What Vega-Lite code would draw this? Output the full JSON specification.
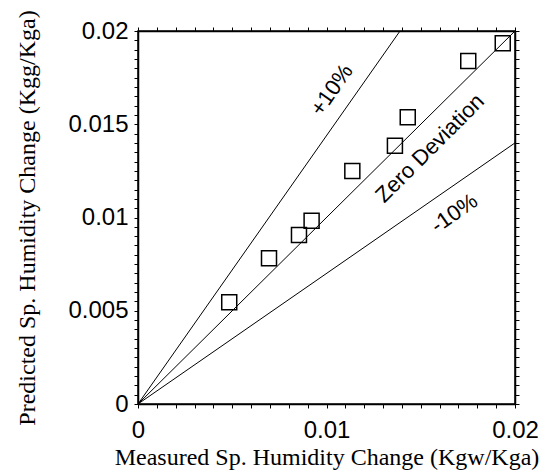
{
  "$schema": "https://vega.github.io/schema/vega-lite/v6.json",
  "width": 377,
  "height": 373,
  "autosize": {"type": "none"},
  "padding": {"left": 138, "top": 31, "right": 25, "bottom": 71},
  "background": "white",
  "config": {
    "view": {"stroke": "black", "strokeWidth": 1.5},
    "axis": {
      "grid": false,
      "domainColor": "black",
      "domainWidth": 1.5,
      "labelColor": "black",
      "labelFont": "Liberation Sans",
      "labelFontSize": 24,
      "labelFlush": false,
      "labelOverlap": false,
      "titleColor": "black",
      "titleFont": "Liberation Serif",
      "titleFontSize": 24,
      "titleFontWeight": "normal"
    }
  },
  "datasets": {
    "points": [
      {"measured": 0.00484, "predicted": 0.00545},
      {"measured": 0.00695, "predicted": 0.00781},
      {"measured": 0.00854, "predicted": 0.00906},
      {"measured": 0.00921, "predicted": 0.00983},
      {"measured": 0.01137, "predicted": 0.01249},
      {"measured": 0.01363, "predicted": 0.01385},
      {"measured": 0.01431, "predicted": 0.01537},
      {"measured": 0.01752, "predicted": 0.01839},
      {"measured": 0.01935, "predicted": 0.01934}
    ],
    "lines": [
      {"series": "+10%", "x": 0, "y": 0},
      {"series": "+10%", "x": 0.0139, "y": 0.02},
      {"series": "zero", "x": 0, "y": 0},
      {"series": "zero", "x": 0.02, "y": 0.02},
      {"series": "-10%", "x": 0, "y": 0},
      {"series": "-10%", "x": 0.02, "y": 0.014}
    ],
    "labels": [
      {"label": "+10%", "x": 0.01028, "y": 0.01684},
      {"label": "Zero Deviation", "x": 0.01549, "y": 0.01371},
      {"label": "-10%", "x": 0.01678, "y": 0.01023}
    ]
  },
  "layer": [
    {
      "data": {"name": "lines"},
      "mark": {"type": "line", "color": "black", "strokeWidth": 1, "clip": true},
      "encoding": {
        "x": {
          "field": "x", "type": "quantitative",
          "scale": {"domain": [0, 0.02], "nice": false},
          "axis": {
            "orient": "bottom",
            "values": [0,0.001,0.002,0.003,0.004,0.005,0.006,0.007,0.008,0.009,0.01,0.011,0.012,0.013,0.014,0.015,0.016,0.017,0.018,0.019,0.02],
            "format": "~g",
            "labelExpr": "abs(datum.value*100-round(datum.value*100))<1e-6 ? datum.label : ''",
            "ticks": true,
            "tickColor": "black",
            "tickOpacity": 1,
            "tickWidth": 1,
            "tickSize": 4,
            "labelPadding": 10,
            "title": "Measured Sp. Humidity Change (Kgw/Kga)",
            "titlePadding": 3
          }
        },
        "y": {
          "field": "y", "type": "quantitative",
          "scale": {"domain": [0, 0.02], "nice": false},
          "axis": {
            "orient": "left",
            "values": [0,0.0005,0.001,0.0015,0.002,0.0025,0.003,0.0035,0.004,0.0045,0.005,0.0055,0.006,0.0065,0.007,0.0075,0.008,0.0085,0.009,0.0095,0.01,0.0105,0.011,0.0115,0.012,0.0125,0.013,0.0135,0.014,0.0145,0.015,0.0155,0.016,0.0165,0.017,0.0175,0.018,0.0185,0.019,0.0195,0.02],
            "format": "~g",
            "labelExpr": "abs(datum.value*200-round(datum.value*200))<1e-6 ? datum.label : ''",
            "ticks": true,
            "tickColor": "black",
            "tickOpacity": 1,
            "tickWidth": 1,
            "tickSize": 4,
            "labelPadding": 6,
            "title": "Predicted Sp. Humidity Change (Kgg/Kga)",
            "titlePadding": 28
          }
        },
        "detail": {"field": "series"}
      }
    },
    {
      "data": {"name": "points"},
      "mark": {"type": "point", "shape": "square", "filled": false, "stroke": "black", "strokeWidth": 1.5, "size": 225, "opacity": 1},
      "encoding": {
        "x": {
          "field": "measured", "type": "quantitative",
          "axis": {
            "orient": "top",
            "values": [0,0.001,0.002,0.003,0.004,0.005,0.006,0.007,0.008,0.009,0.01,0.011,0.012,0.013,0.014,0.015,0.016,0.017,0.018,0.019,0.02],
            "labels": false,
            "title": null,
            "ticks": true,
            "tickColor": "black",
            "tickOpacity": 1,
            "tickWidth": 1,
            "tickSize": 4
          }
        },
        "y": {
          "field": "predicted", "type": "quantitative",
          "axis": {
            "orient": "right",
            "values": [0,0.0005,0.001,0.0015,0.002,0.0025,0.003,0.0035,0.004,0.0045,0.005,0.0055,0.006,0.0065,0.007,0.0075,0.008,0.0085,0.009,0.0095,0.01,0.0105,0.011,0.0115,0.012,0.0125,0.013,0.0135,0.014,0.0145,0.015,0.0155,0.016,0.0165,0.017,0.0175,0.018,0.0185,0.019,0.0195,0.02],
            "labels": false,
            "title": null,
            "ticks": true,
            "tickColor": "black",
            "tickOpacity": 1,
            "tickWidth": 1,
            "tickSize": 4
          }
        }
      }
    },
    {
      "data": {"name": "labels"},
      "transform": [{"filter": "datum.label == '+10%'"}],
      "mark": {"type": "text", "angle": -55, "font": "Liberation Sans", "fontSize": 22, "color": "black", "align": "center", "baseline": "middle"},
      "encoding": {
        "x": {"field": "x", "type": "quantitative", "axis": null},
        "y": {"field": "y", "type": "quantitative", "axis": null},
        "text": {"field": "label"}
      }
    },
    {
      "data": {"name": "labels"},
      "transform": [{"filter": "datum.label == 'Zero Deviation'"}],
      "mark": {"type": "text", "angle": -45, "font": "Liberation Sans", "fontSize": 22, "color": "black", "align": "center", "baseline": "middle"},
      "encoding": {
        "x": {"field": "x", "type": "quantitative", "axis": null},
        "y": {"field": "y", "type": "quantitative", "axis": null},
        "text": {"field": "label"}
      }
    },
    {
      "data": {"name": "labels"},
      "transform": [{"filter": "datum.label == '-10%'"}],
      "mark": {"type": "text", "angle": -35, "font": "Liberation Sans", "fontSize": 22, "color": "black", "align": "center", "baseline": "middle"},
      "encoding": {
        "x": {"field": "x", "type": "quantitative", "axis": null},
        "y": {"field": "y", "type": "quantitative", "axis": null},
        "text": {"field": "label"}
      }
    }
  ],
  "resolve": {"axis": {"x": "independent", "y": "independent"}}
}
